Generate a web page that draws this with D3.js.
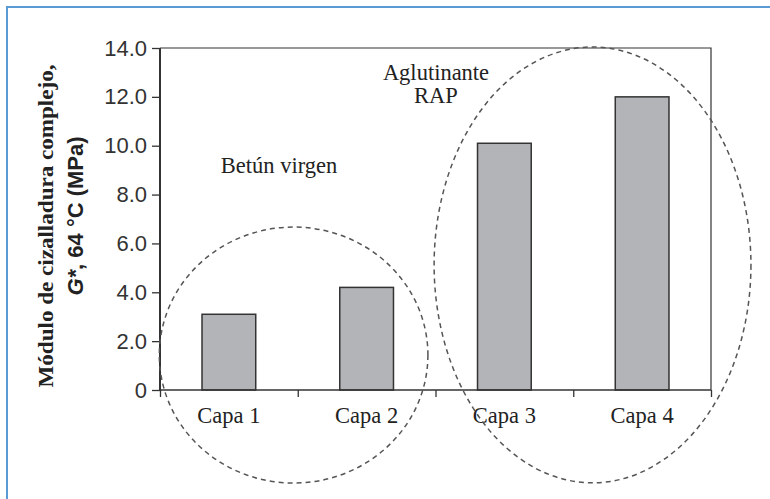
<!DOCTYPE html>
<html>
<head>
<meta charset="utf-8">
<script src="https://cdn.jsdelivr.net/npm/d3@7"></script>
<style>
    body { margin: 0; background: #fff; }
    svg { display: block; }
</style>
</head>
<body>
<svg id="chartSVG" width="770" height="499"></svg>
<script>
/* ---------- Data ---------- */
const capas = ["Capa 1", "Capa 2", "Capa 3", "Capa 4"];
const modulo = [3.1, 4.2, 10.1, 12.0];
const yTicks = [0, 2, 4, 6, 8, 10, 12, 14];
const groupLabels = [["Betún virgen"], ["Aglutinante", "RAP"]];

/* ---------- Layout ---------- */
const plot = { left: 160, right: 711, top: 48, bottom: 390 };
const serif = "'Liberation Serif', 'Times New Roman', serif";
const sans = "'Liberation Sans', Arial, sans-serif";

var svg = d3.select("#chartSVG");

// blue page frame (only top and left visible)
svg.append("rect")
    .attr("x", 7).attr("y", 7)
    .attr("width", 900).attr("height", 700)
    .attr("fill", "none")
    .attr("stroke", "#5b9bd5")
    .attr("stroke-width", 2);

/* ---------- Scales ---------- */
var x = d3.scaleBand()
    .domain(capas)
    .range([plot.left, plot.right])
    .paddingInner(0.61)
    .paddingOuter(0.305);
var slot = d3.scaleLinear()
    .domain([0, capas.length])
    .range([plot.left, plot.right]);
var y = d3.scaleLinear()
    .domain([0, 14])
    .range([plot.bottom, plot.top]);

// plot frame: top and right
svg.append("path")
    .attr("d", "M" + plot.left + "," + plot.top + "H" + plot.right + "V" + plot.bottom)
    .attr("fill", "none")
    .attr("stroke", "#333")
    .attr("stroke-width", 1.2);

/* ---------- Bars ---------- */
svg.append("g").selectAll("rect")
    .data(modulo)
    .join("rect")
    .attr("x", (d, i) => x(capas[i]))
    .attr("y", d => y(d))
    .attr("width", x.bandwidth())
    .attr("height", d => y(0) - y(d))
    .attr("fill", "#b3b4b8")
    .attr("stroke", "#333")
    .attr("stroke-width", 1.5);

/* ---------- Axes ---------- */
var yAxis = d3.axisLeft(y)
    .tickValues(yTicks)
    .tickSize(8)
    .tickPadding(5)
    .tickFormat(d => d === 0 ? "0" : d3.format(".1f")(d));
var yG = svg.append("g")
    .attr("transform", "translate(" + plot.left + ",0)")
    .call(yAxis);
yG.select(".domain").attr("stroke", "#333").attr("stroke-width", 2).attr("d", "M0," + plot.top + "V" + plot.bottom);
yG.selectAll(".tick line").attr("stroke", "#333").attr("stroke-width", 1.3);
yG.selectAll(".tick text")
    .attr("fill", "#333")
    .style("font-family", sans)
    .style("font-size", "22px");

var xTickG = svg.append("g")
    .attr("transform", "translate(0," + plot.bottom + ")")
    .call(d3.axisBottom(slot).tickValues(d3.range(capas.length + 1)).tickSize(7).tickFormat(""));
xTickG.select(".domain").attr("stroke", "#333").attr("stroke-width", 1.5).attr("d", "M" + plot.left + ",0H" + plot.right);
xTickG.selectAll(".tick line").attr("stroke", "#333").attr("stroke-width", 1.3);

var xG = svg.append("g")
    .attr("transform", "translate(0," + plot.bottom + ")")
    .call(d3.axisBottom(x).tickSize(0));
xG.select(".domain").remove();
xG.selectAll(".tick text")
    .attr("y", 33)
    .attr("dy", 0)
    .attr("fill", "#222")
    .style("font-family", serif)
    .style("font-size", "22.5px");

/* ---------- Axis Caption ---------- */
var yTitle = svg.append("g").attr("transform", "translate(53,226) rotate(-90)");
yTitle.append("text")
    .attr("text-anchor", "middle")
    .attr("fill", "#222")
    .style("font-family", serif)
    .style("font-size", "22px")
    .style("font-weight", "bold")
    .attr("textLength", 323)
    .attr("lengthAdjust", "spacingAndGlyphs")
    .text("Módulo de cizalladura complejo,");
var line2 = svg.append("text")
    .attr("transform", "translate(83,216) rotate(-90)")
    .attr("text-anchor", "middle")
    .attr("fill", "#222")
    .style("font-family", sans)
    .style("font-size", "22px")
    .style("font-weight", "bold");
line2.append("tspan").style("font-style", "italic").text("G*");
line2.append("tspan").text(", 64 °C (MPa)");

/* ---------- Dashed group ellipses ---------- */
// centre in slot units / value units, radii in slot units / value units
const ellipses = [
    { cx: 0.97, cy: 1.43, rx: 0.975, ry: 5.24 },
    { cx: 3.14, cy: 5.12, rx: 1.15, ry: 8.92 }
];
svg.append("g").selectAll("ellipse")
    .data(ellipses)
    .join("ellipse")
    .attr("cx", d => slot(d.cx))
    .attr("cy", d => y(d.cy))
    .attr("rx", d => slot(d.rx) - slot(0))
    .attr("ry", d => y(0) - y(d.ry))
    .attr("fill", "none")
    .attr("stroke", "#555")
    .attr("stroke-width", 1.5)
    .attr("stroke-dasharray", "5,4");

/* ---------- Group labels ---------- */
const labelPos = [
    { x: 279, y: 173 },
    { x: 436, y: 80 }
];
groupLabels.forEach((lines, i) => {
    var t = svg.append("text")
        .attr("text-anchor", "middle")
        .attr("fill", "#222")
        .style("font-family", serif)
        .style("font-size", "22.5px");
    lines.forEach((line, j) => {
        t.append("tspan")
            .attr("x", labelPos[i].x)
            .attr("y", labelPos[i].y + j * 23)
            .text(line);
    });
});
</script>
</body>
</html>
